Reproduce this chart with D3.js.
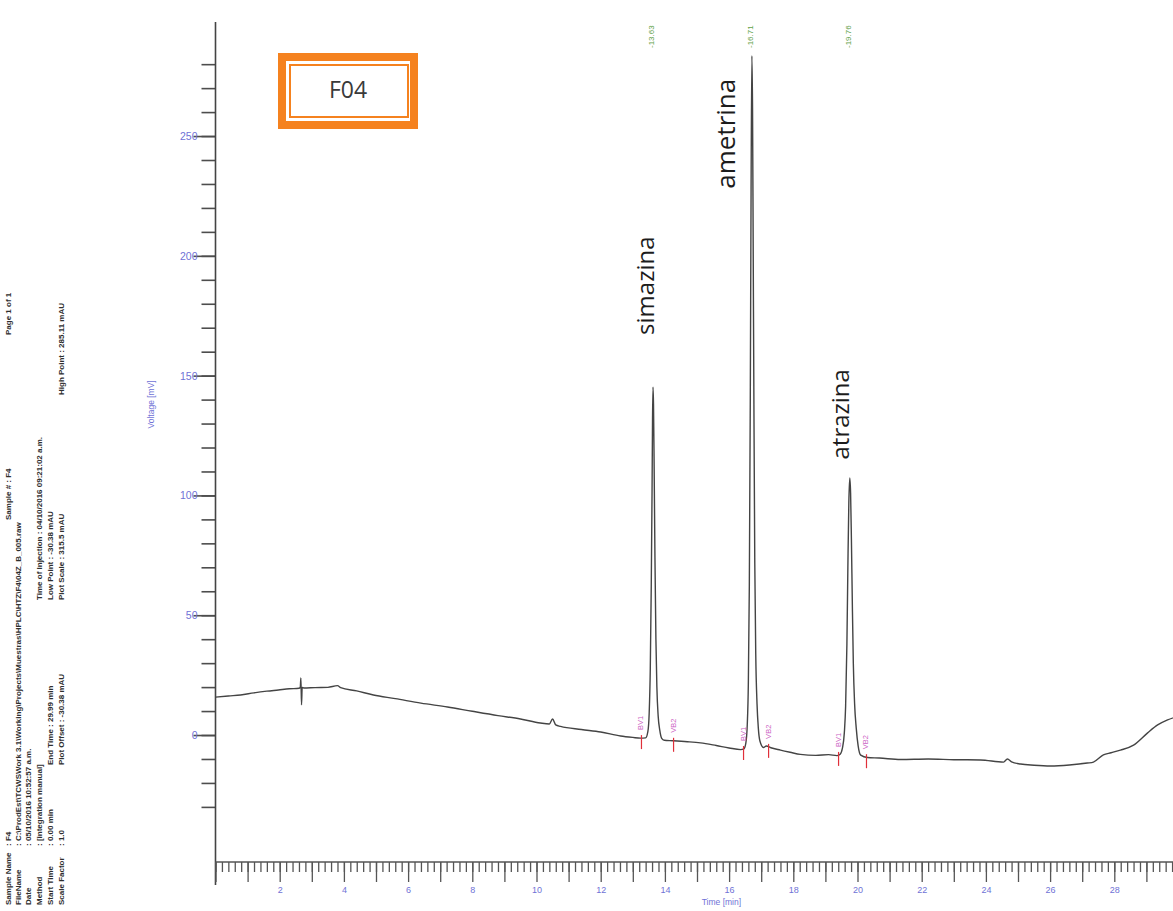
<!DOCTYPE html>
<html>
<head>
<meta charset="utf-8">
<script src="https://cdn.jsdelivr.net/npm/d3@7"></script>
<style>
  body { margin: 0; background: #fff; }
  svg { display: block; }
</style>
</head>
<body>
<svg id="chart" width="1173" height="911"></svg>
<script>
// Chromatogram F04: detector signal (mAU) against retention time (min)
const signal = [
  [0.00, 15.8], [0.40, 16.3], [0.78, 16.7], [1.20, 17.6], [1.60, 18.3], [1.96, 18.8],
  [2.30, 19.3], [2.60, 19.5], [2.64, 19.8], [2.66, 23.8], [2.68, 12.6], [2.70, 19.9],
  [2.75, 19.6], [3.10, 19.8], [3.50, 19.9], [3.80, 20.6], [3.90, 19.8], [4.40, 18.4],
  [4.92, 16.7], [5.60, 15.2], [6.40, 13.3], [7.23, 11.7], [8.00, 9.9], [8.80, 8.1],
  [9.50, 6.7], [10.12, 5.0], [10.40, 4.6], [10.50, 6.7], [10.60, 4.2], [10.75, 3.6],
  [11.40, 2.3], [12.00, 1.25], [12.62, -0.4], [13.00, -1.0], [13.24, -1.3],
  // simazina
  [13.40, -1.2], [13.47, 1.5], [13.51, 9], [13.545, 28], [13.575, 62], [13.60, 102],
  [13.615, 132], [13.63, 145.2], [13.645, 138], [13.665, 112], [13.69, 74], [13.72, 40],
  [13.75, 20], [13.79, 8], [13.84, 2], [13.90, -1.4], [13.98, -2.2],
  [14.25, -2.4], [14.70, -2.8], [15.11, -3.3], [15.60, -4.4], [16.00, -5.4], [16.36, -6.1],
  // ametrina
  [16.46, -5.8], [16.52, -3.5], [16.565, 4], [16.60, 22], [16.63, 62], [16.66, 140],
  [16.685, 228], [16.71, 283.5], [16.73, 262], [16.75, 205], [16.775, 132], [16.80, 72],
  [16.83, 34], [16.87, 13], [16.91, 3], [16.96, -2.5], [17.07, -5.2],
  [17.16, -4.6], [17.30, -5.3], [17.60, -6.3], [17.90, -7.2], [18.22, -8.1], [18.70, -8.5],
  [19.10, -8.2], [19.36, -8.6],
  // atrazina
  [19.46, -8.0], [19.53, -5.5], [19.59, 1], [19.63, 12], [19.67, 38], [19.70, 70],
  [19.73, 97], [19.76, 107.3], [19.785, 101], [19.81, 82], [19.84, 54], [19.87, 30],
  [19.91, 13], [19.96, 3], [20.02, -4.5], [20.10, -8.4],
  [20.31, -9.4], [20.68, -9.6], [21.34, -10.2], [22.20, -10.0], [23.00, -10.3], [23.83, -10.4],
  [24.55, -11.3], [24.67, -10.0], [24.80, -11.2], [25.08, -12.1], [25.50, -12.6], [26.01, -12.9],
  [26.60, -12.5], [27.16, -11.7], [27.35, -11.3], [27.66, -8.3], [27.90, -7.4], [28.19, -6.3],
  [28.60, -4.2], [29.03, 0.8], [29.35, 4.2], [29.66, 6.3], [30.00, 7.9]
];

const peakNames = ["simazina", "ametrina", "atrazina"];
const retentionTimes = [13.63, 16.71, 19.76];
// integration start / end of each peak (min)
const peakEvents = [[13.27, 14.27], [16.45, 17.23], [19.41, 20.28]];
const eventCodes = ["BV", "VB"];

const yMajorTicks = [0, 50, 100, 150, 200, 250];
const yMinorTicks = d3.range(-30, 281, 10);
const xLabelTicks = [2, 4, 6, 8, 10, 12, 14, 16, 18, 20, 22, 24, 26, 28];

const headerLines = [
  [["Sample Name", 0, true], [": F4", 1, false], ["Sample # : F4", 2, true], ["Page 1 of 1", 4, true]],
  [["FileName", 0, true], [": C:\\ProdEst\\TCWSWork 3.1\\Working\\Projects\\Muestras\\HPLC\\HTZ\\F4\\04Z_B_005.raw", 1, false]],
  [["Date", 0, true], [": 05/10/2016 10:52:57 a.m.", 1, false]],
  [["Method", 0, true], [": [integration manual]", 1, false], ["Time of Injection : 04/10/2016 09:21:02 a.m.", 3, false]],
  [["Start Time", 0, true], [": 0.00 min", 1, false], ["End Time : 29.99 min", 5, false], ["Low Point : -30.38 mAU", 3, false]],
  [["Scale Factor", 0, true], [": 1.0", 1, false], ["Plot Offset : -30.38 mAU", 5, false], ["Plot Scale : 315.5 mAU", 3, false], ["High Point : 285.11 mAU", 6, true]]
];

const svg = d3.select("#chart");
const axisBlue = "#6f72d6";

const x = d3.scaleLinear().domain([0, 30]).range([215.5, 1178.5]);
const y = d3.scaleLinear().domain([-53, 297.6]).range([862, 22]);

// signal value at any time
const bis = d3.bisector(d => d[0]).left;
function valueAt(t) {
  const i = Math.max(1, Math.min(signal.length - 1, bis(signal, t)));
  const a = signal[i - 1], b = signal[i];
  return a[1] + (b[1] - a[1]) * (t - a[0]) / (b[0] - a[0]);
}

// ---- header block printed sideways on the left ----
const headerX = [9, 19, 29, 40, 51, 62];
const fieldY = [905, 846, 520, 600, 335, 765, 395];
const header = svg.append("g")
  .attr("font-family", "Liberation Sans, Arial, sans-serif")
  .attr("font-size", 8)
  .attr("fill", "#2e2e2e");
headerLines.forEach((line, li) => {
  line.forEach(([txt, col, bold]) => {
    header.append("text")
      .attr("transform", `translate(${headerX[li]},${fieldY[col]}) rotate(-90)`)
      .attr("dominant-baseline", "middle")
      .attr("font-weight", bold ? "bold" : "600")
      .text(txt);
  });
});

// ---- y axis ----
const yMinor = d3.axisLeft(y).tickValues(yMinorTicks).tickSize(14).tickFormat("").tickSizeOuter(0);
const yMajor = d3.axisLeft(y).tickValues(yMajorTicks).tickSize(22).tickPadding(-4).tickSizeOuter(0);
const gy1 = svg.append("g").attr("transform", `translate(${x(0)},0)`).call(yMinor);
const gy2 = svg.append("g").attr("transform", `translate(${x(0)},0)`).call(yMajor);
[gy1, gy2].forEach(g => {
  g.select(".domain").remove();
  g.selectAll(".tick line").attr("stroke", "#4d4d4d").attr("stroke-width", 1.6);
});
gy2.selectAll(".tick text")
  .attr("fill", axisBlue).attr("font-size", 10.5)
  .attr("font-family", "Liberation Sans, Arial, sans-serif");

svg.append("line")
  .attr("x1", x(0)).attr("x2", x(0))
  .attr("y1", y.range()[1]).attr("y2", y.range()[0] + 23)
  .attr("stroke", "#444").attr("stroke-width", 1.6);

svg.append("text")
  .attr("transform", `translate(152,${y(138)}) rotate(-90)`)
  .attr("text-anchor", "middle")
  .attr("dominant-baseline", "middle")
  .attr("font-family", "Liberation Sans, Arial, sans-serif")
  .attr("font-size", 8.5)
  .attr("fill", axisBlue)
  .text("Voltage [mV]");

// ---- x axis ----
const xMinor = d3.axisBottom(x).tickValues(d3.range(0, 30.01, 0.2)).tickSize(10).tickFormat("").tickSizeOuter(0);
const xMajor = d3.axisBottom(x).tickValues(d3.range(0, 31, 1)).tickSize(20).tickPadding(5).tickSizeOuter(0)
  .tickFormat(d => xLabelTicks.includes(d) ? d : "");
const gx1 = svg.append("g").attr("transform", `translate(0,${y.range()[0]})`).call(xMinor);
const gx2 = svg.append("g").attr("transform", `translate(0,${y.range()[0]})`).call(xMajor);
[gx1, gx2].forEach(g => {
  g.select(".domain").remove();
  g.selectAll(".tick line").attr("stroke", "#555").attr("stroke-width", 1.3);
});
gx2.selectAll(".tick text")
  .attr("fill", axisBlue).attr("font-size", 9)
  .attr("font-family", "Liberation Sans, Arial, sans-serif");
svg.append("line")
  .attr("x1", x(0)).attr("x2", x(30))
  .attr("y1", y.range()[0]).attr("y2", y.range()[0])
  .attr("stroke", "#555").attr("stroke-width", 1.6);
svg.append("text")
  .attr("x", x(15.76)).attr("y", 905)
  .attr("text-anchor", "middle")
  .attr("font-family", "Liberation Sans, Arial, sans-serif")
  .attr("font-size", 8.5)
  .attr("fill", axisBlue)
  .text("Time [min]");

// ---- trace ----
const line = d3.line().x(d => x(d[0])).y(d => y(d[1])).curve(d3.curveMonotoneX);
svg.append("path")
  .datum(signal)
  .attr("d", line)
  .attr("fill", "none")
  .attr("stroke", "#444")
  .attr("stroke-width", 1.4);

// ---- integration event marks ----
const ev = svg.append("g");
peakEvents.forEach(pair => {
  pair.forEach((t, k) => {
    const px = x(t), py = y(valueAt(t));
    ev.append("line")
      .attr("x1", px).attr("x2", px)
      .attr("y1", py - 3).attr("y2", py + 11)
      .attr("stroke", "#e0303a").attr("stroke-width", 1.2);
    ev.append("text")
      .attr("transform", `translate(${px},${py - 8}) rotate(-90)`)
      .attr("dominant-baseline", "middle")
      .attr("font-family", "Liberation Sans, Arial, sans-serif")
      .attr("font-size", 7.5)
      .attr("fill", "#cc5fc4")
      .text(eventCodes[k] + (k + 1));
  });
});

// ---- retention time labels on top ----
retentionTimes.forEach(rt => {
  svg.append("text")
    .attr("transform", `translate(${x(rt) - 1},48) rotate(-90)`)
    .attr("dominant-baseline", "middle")
    .attr("font-family", "Liberation Sans, Arial, sans-serif")
    .attr("font-size", 8)
    .attr("fill", "#5fa24a")
    .text("-" + rt.toFixed(2));
});

// ---- compound names ----
const nameLayout = [
  { dx: -5, v: 167, size: 24 },
  { dx: -24, v: 228, size: 26 },
  { dx: -7, v: 115, size: 24 }
];
peakNames.forEach((name, i) => {
  svg.append("text")
    .attr("transform", `translate(${x(retentionTimes[i]) + nameLayout[i].dx},${y(nameLayout[i].v)}) rotate(-90)`)
    .attr("dominant-baseline", "middle")
    .attr("font-family", "Open Sans, sans-serif")
    .attr("font-size", nameLayout[i].size)
    .attr("fill", "#1c1c1c")
    .text(name);
});

// ---- sample tag ----
const tag = svg.append("g");
tag.append("rect").attr("x", 282).attr("y", 57).attr("width", 132).attr("height", 68)
  .attr("fill", "#fff").attr("stroke", "#f5821f").attr("stroke-width", 8);
tag.append("rect").attr("x", 290).attr("y", 65).attr("width", 118).attr("height", 52)
  .attr("fill", "none").attr("stroke", "#f5821f").attr("stroke-width", 2);
tag.append("text")
  .attr("x", 348).attr("y", 92)
  .attr("text-anchor", "middle").attr("dominant-baseline", "middle")
  .attr("font-family", "Open Sans, sans-serif")
  .attr("font-size", 23)
  .attr("fill", "#3a3a3a")
  .text("F04");
</script>
</body>
</html>
